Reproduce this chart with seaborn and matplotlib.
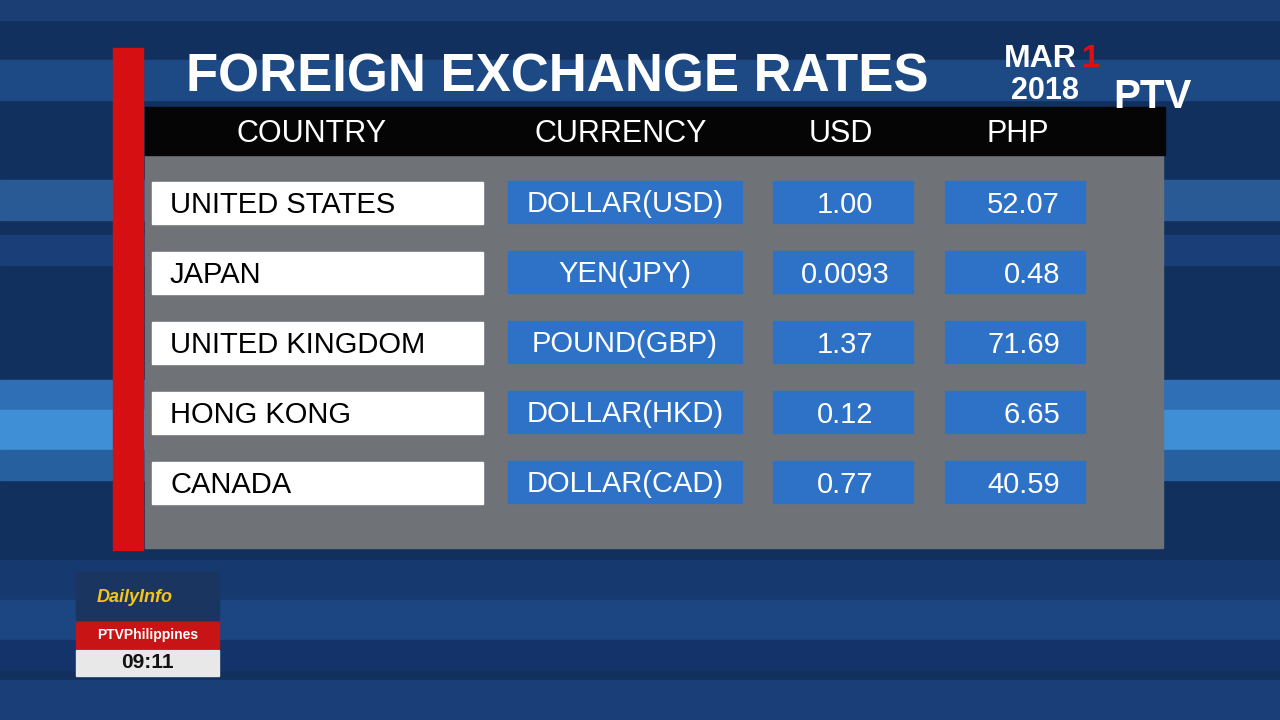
import matplotlib
matplotlib.use("Agg")
import matplotlib.pyplot as plt
import matplotlib.patches as mp
import seaborn as sns

sns.set_theme(style="white")
plt.rcParams['font.family'] = ['Liberation Sans', 'DejaVu Sans']

countries = ["UNITED STATES", "JAPAN", "UNITED KINGDOM", "HONG KONG", "CANADA"]
currencies = ["DOLLAR(USD)", "YEN(JPY)", "POUND(GBP)", "DOLLAR(HKD)", "DOLLAR(CAD)"]
usd = ["1.00", "0.0093", "1.37", "0.12", "0.77"]
php = ["52.07", "0.48", "71.69", "6.65", "40.59"]
headers = ["COUNTRY", "CURRENCY", "USD", "PHP"]

fig = plt.figure(figsize=(12.8, 7.2), dpi=100)
ax = fig.add_axes([0, 0, 1, 1])
ax.set_xlim(0, 1280); ax.set_ylim(720, 0); ax.axis('off')

ax.add_patch(mp.Rectangle((0, 0), 1280, 720, color='#12305e'))
stripes = [(0, 20, '#1b3f75'), (60, 40, '#1d4a85'), (180, 40, '#2a5a96'), (235, 30, '#1a3f78'),
           (380, 30, '#2f6fb5'), (410, 40, '#3f8fd6'), (450, 30, '#27609e'), (560, 40, '#163a70'),
           (600, 40, '#1c4682'), (640, 30, '#13336a'), (680, 40, '#1a3e78')]
for y, h, c in stripes:
    ax.add_patch(mp.Rectangle((0, y), 1280, h, color=c))

ax.add_patch(mp.Rectangle((145, 155), 1018, 393, color='#6f7378'))
ax.add_patch(mp.Rectangle((145, 107), 1020, 48, color='#050505'))
ax.add_patch(mp.Rectangle((113, 48), 30, 502, color='#d50f12'))

ax.text(557, 78, "FOREIGN EXCHANGE RATES", color='white', fontsize=38, fontweight='bold',
        ha='center', va='center')
ax.text(1040, 59, "MAR", color='white', fontsize=23, fontweight='bold', ha='center', va='center')
ax.text(1091, 59, "1", color='#e01010', fontsize=23, fontweight='bold', ha='center', va='center')
ax.text(1045, 91, "2018", color='white', fontsize=22, fontweight='bold', ha='center', va='center')
ax.text(1152, 97, "PTV", color='white', fontsize=29, fontweight='bold', ha='center', va='center')

hx = [312, 621, 841, 1018]
for x, h in zip(hx, headers):
    ax.text(x, 134, h, color='white', fontsize=22, ha='center', va='center')

blue = '#2e72c8'
for i in range(len(countries)):
    yc = 203 + 70 * i
    ax.add_patch(mp.Rectangle((152, yc - 21), 331, 42, color='white'))
    ax.text(170, yc + 2, countries[i], color='black', fontsize=21, ha='left', va='center')
    ax.add_patch(mp.Rectangle((508, yc - 22), 234, 42, color=blue))
    ax.text(625, yc + 1, currencies[i], color='white', fontsize=21, ha='center', va='center')
    ax.add_patch(mp.Rectangle((773, yc - 22), 140, 42, color=blue))
    ax.text(845, yc + 2, usd[i], color='white', fontsize=21, ha='center', va='center')
    ax.add_patch(mp.Rectangle((945, yc - 22), 140, 42, color=blue))
    ax.text(1060, yc + 2, php[i], color='white', fontsize=21, ha='right', va='center')

ax.add_patch(mp.Rectangle((76, 572), 143, 48, color='#1a3560'))
ax.text(135, 598, "DailyInfo", color='#f5c518', fontsize=13, fontweight='bold', ha='center',
        va='center', style='italic')
ax.add_patch(mp.Rectangle((76, 622), 143, 26, color='#c81414'))
ax.text(148, 635, "PTVPhilippines", color='white', fontsize=10, fontweight='bold', ha='center', va='center')
ax.add_patch(mp.Rectangle((76, 650), 143, 26, color='#e8e8e8'))
ax.text(147, 663, "09:11", color='#111111', fontsize=15, fontweight='bold', ha='center', va='center')

fig.savefig("out.png", dpi=100)
